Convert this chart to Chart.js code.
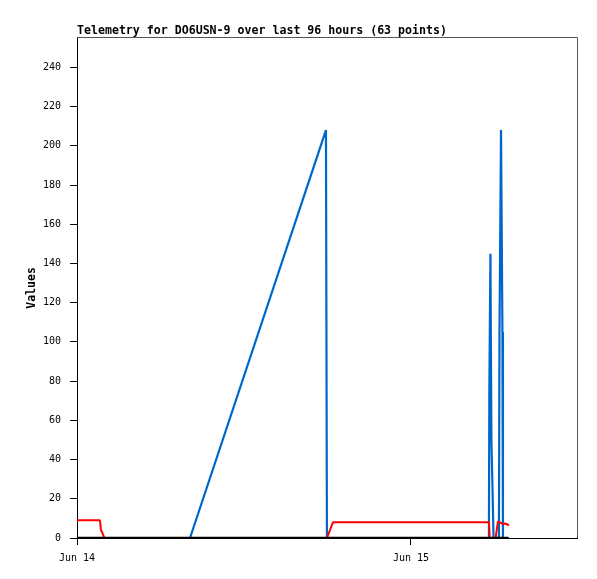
<!DOCTYPE html>
<html><head><meta charset="utf-8">
<script src="https://cdn.jsdelivr.net/npm/chart.js@4/dist/chart.umd.min.js"></script>
<style>html,body{margin:0;padding:0;background:#fff}canvas{display:block}</style>
</head><body>
<canvas id="c" width="597" height="579"></canvas>
<script>
// hours since Jun 14 00:00
const blueHours  = [0, 8.12, 17.89, 17.96, 29.60, 29.63, 29.71, 29.78, 29.86, 29.93, 30.32, 30.36, 30.47, 30.57, 30.61, 31.04];
const blueValues = [0, 0,    208,   0,     0,     73,    145,   49,    25,    0,     0,     105,   208,   105,   0,     0];
const redHours   = [0, 1.65, 1.72, 1.80, 1.97, 17.96, 18.39, 29.60, 29.66, 30.08, 30.25, 30.40, 30.62, 30.75, 31.04];
const redValues  = [9, 9,    4,    3,    0,    0,     8,     8,     0,     0,     8.5,   8,     7,     7.5,   6.5];
const blackHours  = [0, 31.00];
const blackValues = [0, 0];
const yTickValues = [0, 20, 40, 60, 80, 100, 120, 140, 160, 180, 200, 220, 240];
const xTickHours  = [0, 24];
const xTickLabels = ['Jun 14', 'Jun 15'];
const xRangeMax = 35.93;
const yRangeMax = 255;

const pts = (xs, ys) => xs.map((x, i) => ({x: x, y: ys[i]}));
const mono = 'DejaVu Sans Mono';

const framePlugin = {
  id: 'frame',
  afterDraw(chart) {
    const {ctx, chartArea: a} = chart;
    ctx.save();
    ctx.strokeStyle = '#555';
    ctx.lineWidth = 1;
    ctx.beginPath();
    ctx.moveTo(a.left, Math.floor(a.top) + 0.5);
    ctx.lineTo(Math.round(a.right) + 0.5, Math.floor(a.top) + 0.5);
    ctx.lineTo(Math.round(a.right) + 0.5, a.bottom);
    ctx.stroke();
    ctx.restore();
  }
};

new Chart(document.getElementById('c'), {
  type: 'line',
  data: {
    datasets: [
      {label: 'black', data: pts(blackHours, blackValues), borderColor: '#000', borderWidth: 2.5, order: 0},
      {label: 'red', data: pts(redHours, redValues), borderColor: '#ff0000', borderWidth: 2, order: 1},
      {label: 'blue', data: pts(blueHours, blueValues), borderColor: '#0066cc', borderWidth: 2.2, order: 2}
    ]
  },
  options: {
    responsive: false,
    animation: false,
    devicePixelRatio: 1,
    elements: {
      point: {radius: 0, hoverRadius: 0},
      line: {tension: 0, fill: false, borderJoinStyle: 'bevel'}
    },
    layout: {padding: {top: 24, right: 20, bottom: 0, left: 0}},
    plugins: {
      legend: {display: false},
      tooltip: {enabled: false},
      title: {
        display: true,
        text: 'Telemetry for DO6USN-9 over last 96 hours (63 points)',
        align: 'start',
        fullSize: false,
        color: '#000',
        font: {family: mono, weight: 'bold', size: 11.6, lineHeight: 1.2},
        padding: {top: 0, bottom: 0}
      }
    },
    scales: {
      x: {
        type: 'linear',
        position: 'bottom',
        min: 0,
        max: xRangeMax,
        border: {color: '#000', width: 1},
        grid: {drawOnChartArea: false, drawTicks: true, tickLength: 7, color: '#000'},
        ticks: {
          color: '#000', padding: 7, autoSkip: false, maxRotation: 0,
          font: {family: mono, size: 10},
          callback: (v) => { const i = xTickHours.indexOf(v); return i >= 0 ? xTickLabels[i] : ''; }
        },
        afterBuildTicks: (s) => { s.ticks = xTickHours.map(v => ({value: v})); },
        afterFit: (s) => { s.height = 41; }
      },
      y: {
        type: 'linear',
        min: 0,
        max: yRangeMax,
        border: {color: '#000', width: 1},
        grid: {drawOnChartArea: false, drawTicks: true, tickLength: 7, color: '#000'},
        ticks: {color: '#000', padding: 9, font: {family: mono, size: 10}},
        afterBuildTicks: (s) => { s.ticks = yTickValues.map(v => ({value: v})); },
        afterFit: (s) => { s.width = 77; },
        title: {
          display: true, text: 'Values', color: '#000',
          font: {family: mono, weight: 'bold', size: 11.5, lineHeight: 1.2},
          padding: {top: 25, bottom: 0}
        }
      }
    }
  },
  plugins: [framePlugin]
});
</script>
</body></html>
